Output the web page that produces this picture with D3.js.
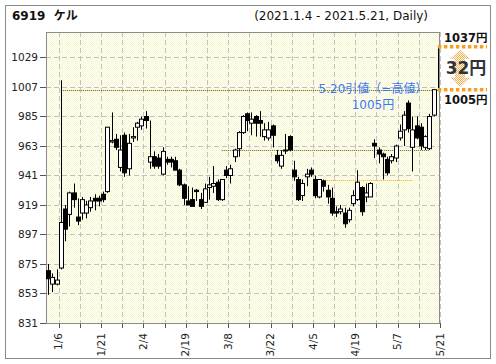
<!DOCTYPE html>
<html>
<head>
<meta charset="utf-8">
<script src="https://cdn.jsdelivr.net/npm/d3@7"></script>
<style>
  body { margin: 0; background: #fff; }
  svg text { font-family: "DejaVu Sans", "Noto Sans CJK JP", sans-serif; }
</style>
</head>
<body>
<div id="chart"></div>
<script>
// trading days 2021.1.4 - 2021.5.21
var dates = [
  "1/4","1/5","1/6","1/7","1/8","1/12","1/13","1/14","1/15","1/18","1/19","1/20","1/21","1/22","1/25","1/26","1/27","1/28","1/29",
  "2/1","2/2","2/3","2/4","2/5","2/8","2/9","2/10","2/12","2/15","2/16","2/17","2/18","2/19","2/22","2/24","2/25","2/26",
  "3/1","3/2","3/3","3/4","3/5","3/8","3/9","3/10","3/11","3/12","3/15","3/16","3/17","3/18","3/19","3/22","3/23","3/24","3/25","3/26","3/29","3/30","3/31",
  "4/1","4/2","4/5","4/6","4/7","4/8","4/9","4/12","4/13","4/14","4/15","4/16","4/19","4/20","4/21","4/22","4/23","4/26","4/27","4/28","4/30",
  "5/6","5/7","5/10","5/11","5/12","5/13","5/14","5/17","5/18","5/19","5/20","5/21"
];

// daily prices (yen), 1/4 .. 5/20
var opens  = [870,860,860,872,916,912,928,910,913,913,917,924,924,927,929,966,968,947,971,946,969,977,978,985,951,955,954,942,953,953,952,945,934,922,923,930,923,921,932,933,936,923,945,941,955,961,973,987,980,985,982,970,969,978,956,948,960,970,945,938,926,940,945,938,925,937,930,924,914,914,913,908,920,923,932,925,925,965,960,957,953,952,954,969,975,995,962,978,977,962,961,986];
var highs  = [875,868,871,1012,919,929,935,924,925,922,925,927,926,929,977,988,972,971,973,972,977,981,985,989,982,959,957,962,955,955,955,946,935,933,932,931,928,935,940,948,938,938,948,949,961,974,986,988,988,986,989,980,981,979,960,960,972,971,952,940,938,946,947,941,938,938,934,932,918,919,917,917,930,945,933,935,936,968,962,958,955,957,964,979,989,997,985,985,980,971,987,1005];
var lows   = [852,854,859,871,892,903,917,904,908,909,914,915,918,921,928,965,960,944,940,941,966,967,975,976,946,946,946,941,949,947,945,933,919,919,918,922,916,921,923,928,922,922,939,935,951,955,972,974,971,970,970,967,967,962,950,946,957,959,937,922,922,933,940,924,924,929,920,911,910,912,902,906,918,922,911,921,925,954,950,938,941,950,951,967,963,973,944,968,960,960,960,985];
var closes = [864,865,863,906,901,928,923,907,923,919,922,922,922,923,977,967,962,960,943,965,970,980,983,982,955,948,948,959,951,951,945,934,924,919,918,929,918,931,934,935,923,938,941,946,960,973,985,982,983,980,980,975,975,971,952,956,960,960,940,923,935,942,942,926,938,933,925,913,913,916,905,915,926,936,914,928,935,963,957,955,943,955,963,974,986,976,975,969,963,970,985,1005];

// x axis ticks every 5 trading days, labels every 10
var tickEvery = 5;
var labelEvery = 10;
var firstTick = 2;

var yTicks = [831, 853, 875, 897, 919, 941, 963, 985, 1007, 1029];

// dotted reference lines: price, first day index, last day index
var refValues = [1005, 960, 938];
var refFrom = [3, 41, 64];
var refTo = [92, 90, 86];

var lastCloseLabel = "5.20引値（=高値）";
var lastClose = 1005;
var rangeHigh = 1037;

var title = "6919  ケル";
var period = "(2021.1.4 - 2021.5.21, Daily)";

var width = 496, height = 364;
var plot = { left: 46, right: 440, top: 32, bottom: 323 };

var svg = d3.select("#chart").append("svg")
  .attr("width", width)
  .attr("height", height);

var defs = svg.append("defs");
var bgPat = defs.append("pattern").attr("id", "bg")
  .attr("width", 2).attr("height", 2).attr("patternUnits", "userSpaceOnUse");
bgPat.append("rect").attr("width", 2).attr("height", 2).attr("fill", "#fffff6");
bgPat.append("rect").attr("width", 1).attr("height", 1).attr("fill", "#f7f7d6");
bgPat.append("rect").attr("x", 1).attr("y", 1).attr("width", 1).attr("height", 1).attr("fill", "#f7f7d6");

var arPat = defs.append("pattern").attr("id", "arrowfill")
  .attr("width", 2).attr("height", 2).attr("patternUnits", "userSpaceOnUse");
arPat.append("rect").attr("width", 1).attr("height", 1).attr("fill", "#f5ad4a");
arPat.append("rect").attr("x", 1).attr("y", 1).attr("width", 1).attr("height", 1).attr("fill", "#f5ad4a");

// outer frame
svg.append("rect")
  .attr("x", 5.5).attr("y", 5.5)
  .attr("width", 485).attr("height", 353)
  .attr("fill", "none").attr("stroke", "#8a8a8a");

var x = d3.scaleLinear().domain([0, dates.length]).range([plot.left, plot.right]);
var y = d3.scaleLinear().domain([831, 1048]).range([plot.bottom, plot.top]);
function cx(i) { return x(i + 0.5); }

svg.append("rect")
  .attr("x", plot.left).attr("y", plot.top)
  .attr("width", plot.right - plot.left).attr("height", plot.bottom - plot.top)
  .attr("fill", "url(#bg)");

// grid
var tickIdx = d3.range(firstTick, dates.length, tickEvery);
svg.append("g").selectAll("line").data(yTicks.slice(1)).enter().append("line")
  .attr("x1", plot.left).attr("x2", plot.right)
  .attr("y1", d => Math.round(y(d)) + 0.5).attr("y2", d => Math.round(y(d)) + 0.5)
  .attr("stroke", "#c2c2c2").attr("stroke-dasharray", "5,3");
svg.append("g").selectAll("line").data(tickIdx).enter().append("line")
  .attr("x1", d => Math.round(x(d + 1)) + 0.5).attr("x2", d => Math.round(x(d + 1)) + 0.5)
  .attr("y1", plot.top).attr("y2", plot.bottom)
  .attr("stroke", "#c2c2c2").attr("stroke-dasharray", "5,3");

// y axis
var yAxis = svg.append("g").attr("font-size", 10.5).attr("fill", "#222");
yAxis.selectAll("line").data(yTicks).enter().append("line")
  .attr("x1", plot.left - 6).attr("x2", plot.left)
  .attr("y1", d => Math.round(y(d)) + 0.5).attr("y2", d => Math.round(y(d)) + 0.5)
  .attr("stroke", "#555");
yAxis.selectAll("text").data(yTicks).enter().append("text")
  .attr("x", plot.left - 8).attr("y", d => y(d))
  .attr("dy", "0.35em").attr("text-anchor", "end")
  .text(d => d);

// x axis
var xAxis = svg.append("g").attr("font-size", 10.5).attr("fill", "#222");
xAxis.selectAll("line").data(tickIdx).enter().append("line")
  .attr("x1", d => Math.round(x(d + 1)) + 0.5).attr("x2", d => Math.round(x(d + 1)) + 0.5)
  .attr("y1", plot.bottom).attr("y2", plot.bottom + 5)
  .attr("stroke", "#555");
xAxis.selectAll("text").data(tickIdx.filter(d => (d - firstTick) % labelEvery == 0)).enter().append("text")
  .attr("transform", d => "translate(" + x(d + 1) + "," + (plot.bottom + 10) + ") rotate(-90)")
  .attr("dy", "0.35em").attr("text-anchor", "end")
  .text(d => dates[d]);

// plot border
svg.append("rect")
  .attr("x", plot.left + 0.5).attr("y", plot.top + 0.5)
  .attr("width", plot.right - plot.left - 1).attr("height", plot.bottom - plot.top)
  .attr("fill", "none").attr("stroke", "#8c8c8c");

// reference lines
svg.append("g").selectAll("line").data(refValues).enter().append("line")
  .attr("x1", (d, i) => cx(refFrom[i])).attr("x2", (d, i) => cx(refTo[i]))
  .attr("y1", d => Math.round(y(d)) + 0.5).attr("y2", d => Math.round(y(d)) + 0.5)
  .attr("stroke", (d, i) => i == 2 ? "#f0b000" : "#6b6000")
  .attr("stroke-dasharray", "1,1");

// candles
var candles = svg.append("g").selectAll("g").data(closes).enter().append("g");
candles.append("line")
  .attr("x1", (d, i) => Math.round(cx(i)) + 0.5).attr("x2", (d, i) => Math.round(cx(i)) + 0.5)
  .attr("y1", (d, i) => y(highs[i])).attr("y2", (d, i) => y(lows[i]))
  .attr("stroke", "#000");
candles.append("rect")
  .attr("x", (d, i) => Math.round(cx(i)) - 1.5)
  .attr("y", (d, i) => y(Math.max(opens[i], closes[i])))
  .attr("width", 4)
  .attr("height", (d, i) => Math.max(1, Math.abs(y(opens[i]) - y(closes[i]))))
  .attr("fill", (d, i) => closes[i] >= opens[i] ? "#fff" : "#000")
  .attr("stroke", "#000");

// right side annotation: 5/21 range to rangeHigh
var lastI = dates.length - 1;
svg.append("line")
  .attr("x1", Math.round(cx(lastI)) + 0.5).attr("x2", Math.round(cx(lastI)) + 0.5)
  .attr("y1", y(rangeHigh)).attr("y2", y(lastClose))
  .attr("stroke", "#000");
[rangeHigh, lastClose].forEach(function(v) {
  svg.append("line")
    .attr("x1", cx(lastI)).attr("x2", 487)
    .attr("y1", y(v)).attr("y2", y(v))
    .attr("stroke", "#f5a020").attr("stroke-width", 3.5)
    .attr("stroke-dasharray", "3.5,2.5");
});

var ax = 460, ya = y(rangeHigh) + 3, yb = y(lastClose) - 3;
var arrow = d3.path();
arrow.moveTo(ax, ya);
arrow.lineTo(ax + 10, ya + 9);
arrow.lineTo(ax + 5, ya + 9);
arrow.lineTo(ax + 5, yb - 9);
arrow.lineTo(ax + 10, yb - 9);
arrow.lineTo(ax, yb);
arrow.lineTo(ax - 10, yb - 9);
arrow.lineTo(ax - 5, yb - 9);
arrow.lineTo(ax - 5, ya + 9);
arrow.lineTo(ax - 10, ya + 9);
arrow.closePath();
svg.append("path").attr("d", arrow.toString()).attr("fill", "url(#arrowfill)");

svg.append("text")
  .attr("x", 444).attr("y", y(rangeHigh) - 5)
  .attr("font-size", 11.5).attr("font-weight", "bold").attr("fill", "#111")
  .text(rangeHigh + "円");
svg.append("text")
  .attr("x", 444).attr("y", y(lastClose) + 14)
  .attr("font-size", 11.5).attr("font-weight", "bold").attr("fill", "#111")
  .text(lastClose + "円");
svg.append("text")
  .attr("x", 466).attr("y", (y(rangeHigh) + y(lastClose)) / 2 + 6)
  .attr("text-anchor", "middle")
  .attr("font-size", 17).attr("font-weight", "bold").attr("fill", "#333")
  .text((rangeHigh - lastClose) + "円");

// last close label
svg.append("text")
  .attr("x", 373).attr("y", y(lastClose) + 3)
  .attr("text-anchor", "middle")
  .attr("font-size", 12).attr("fill", "#3a78f2")
  .text(lastCloseLabel);
svg.append("text")
  .attr("x", 373).attr("y", y(lastClose) + 19)
  .attr("text-anchor", "middle")
  .attr("font-size", 12).attr("fill", "#3a78f2")
  .text(lastClose + "円");

// header
svg.append("text")
  .attr("x", 12).attr("y", 20)
  .attr("font-size", 12).attr("font-weight", "bold").attr("fill", "#111")
  .style("white-space", "pre")
  .text(title);
svg.append("text")
  .attr("x", 428).attr("y", 20)
  .attr("text-anchor", "end")
  .attr("font-size", 12).attr("fill", "#111")
  .text(period);
</script>
</body>
</html>
